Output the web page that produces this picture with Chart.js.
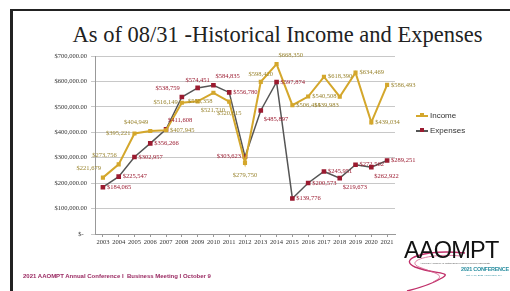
<!DOCTYPE html>
<html>
<head>
<meta charset="utf-8">
<script src="https://cdn.jsdelivr.net/npm/chart.js@4.4.0/dist/chart.umd.min.js"></script>
<style>
  body { margin: 0; width: 510px; height: 291px; background: #fff; position: relative; overflow: hidden; font-family: "Liberation Sans", sans-serif; }
  .frameTop { position: absolute; left: 10px; top: 9px; width: 500px; height: 2px; background: #222; }
  .frameLeft { position: absolute; left: 10px; top: 9px; width: 3px; height: 282px; background: #222; }
  .title { position: absolute; left: 0; width: 555px; top: 22px; text-align: center; font-family: "Liberation Serif", serif; font-size: 22.5px; color: #222; white-space: nowrap; }
  #wrap { position: absolute; left: 30px; top: 48px; width: 425px; height: 202px; }
  .legend { position: absolute; left: 416px; font-size: 8px; color: #333; white-space: nowrap; }
  .legend span.sw { display: inline-block; width: 12px; height: 2px; vertical-align: middle; margin-right: 2px; position: relative; }
  .legend span.sw i { position: absolute; left: 4px; top: -1.5px; width: 4px; height: 4px; }
  .footer { position: absolute; left: 23px; top: 273px; font-size: 6px; font-weight: bold; color: #9a2a62; white-space: nowrap; }
  .logo { position: absolute; left: 404px; top: 238px; font-size: 23.5px; line-height: 24px; color: #111; font-family: "Liberation Sans", sans-serif; letter-spacing: -0.8px; white-space: nowrap; }
  .logoSub { position: absolute; left: 420px; top: 262px; font-size: 2.5px; color: #555; white-space: nowrap; }
  .conf { position: absolute; left: 461px; top: 266px; font-size: 5.5px; font-weight: bold; color: #2a8ea0; white-space: nowrap; letter-spacing: -0.3px; font-family: "Liberation Sans Narrow", "Liberation Sans", sans-serif; }
  .confSub { position: absolute; left: 466px; top: 274px; font-size: 2.5px; color: #2a8ea0; white-space: nowrap; }
</style>
</head>
<body>
<div class="frameTop"></div>
<div class="frameLeft"></div>
<div class="title">As of 08/31 -Historical Income and Expenses</div>
<div id="wrap"><canvas id="myChart"></canvas></div>
<div class="legend" style="top:111px"><span class="sw" style="background:#d4a72c"><i style="background:#d4a72c"></i></span>Income</div>
<div class="legend" style="top:126px"><span class="sw" style="background:#555"><i style="background:#9b1b30"></i></span>Expenses</div>
<svg style="position:absolute;left:395px;top:245px" width="80" height="46">
  <path d="M70 8 C30 4, 2 14, 20 22 C40 30, 60 26, 45 34 C35 40, 20 44, 12 46" fill="none" stroke="#c0306a" stroke-width="1.4"/>
  <path d="M66 11 C34 8, 10 16, 24 22 C42 29, 52 30, 38 37" fill="none" stroke="#d45a8a" stroke-width="0.8"/>
</svg>
<div class="logo">AAOMPT</div>
<div class="logoSub">American Academy of Orthopaedic Manual Physical Therapists</div>
<div class="conf">2021 CONFERENCE</div>
<div class="confSub">Oct. 7-10, 2021 | Cleveland, OH</div>
<div class="footer">2021 AAOMPT Annual Conference I &nbsp;Business Meeting I October 9</div>

<script>
const years = ['2003','2004','2005','2006','2007','2008','2009','2010','2011','2012',
               '2013','2014','2015','2016','2017','2018','2019','2020','2021'];
const income = [221679, 273756, 395221, 404949, 407945, 516149, 521710, 555358, 520615, 279750,
                598420, 668350, 506414, 540508, 618390, 539983, 634469, 439034, 586493];
const expenses = [184065, 225547, 302957, 356266, 411608, 538759, 574451, 584835, 556780, 303623,
                  485897, 597874, 139776, 200573, 245951, 219673, 272562, 262922, 289251];
const yTicks = [0, 100000, 200000, 300000, 400000, 500000, 600000, 700000];

// where each value label sits next to its point
const incomeSpots = ['al','al','l','al','r','l','br','bl','b','b','a','ar','r','r','r','bl','r','r','r'];
const expenseSpots = ['r','r','r','r','ar','al','a','ar','r','l','br','r','r','r','r','br','r','br','r'];

const money = v => '$' + v.toLocaleString('en-US');

const valueLabels = {
  id: 'valueLabels',
  afterDatasetsDraw(chart) {
    const ctx = chart.ctx;
    ctx.save();
    ctx.font = '6.5px "Liberation Serif", serif';
    ctx.textBaseline = 'middle';
    chart.data.datasets.forEach((ds, di) => {
      const spots = di === 0 ? incomeSpots : expenseSpots;
      ctx.fillStyle = di === 0 ? '#9a8530' : '#9b1b30';
      chart.getDatasetMeta(di).data.forEach((pt, i) => {
        const txt = money(ds.data[i]);
        const w = ctx.measureText(txt).width;
        let x = pt.x + 4, y = pt.y;
        const s = spots[i];
        if (s === 'l') { x = pt.x - 4 - w; }
        if (s === 'a') { x = pt.x - w / 2; y = pt.y - 8; }
        if (s === 'b') { x = pt.x - w / 2; y = pt.y + 12; }
        if (s === 'ar') { x = pt.x + 2; y = pt.y - 9; }
        if (s === 'al') { x = pt.x - w - 2; y = pt.y - 9; }
        if (s === 'br') { x = pt.x + 3; y = pt.y + 9; }
        if (s === 'bl') { x = pt.x - w - 1; y = pt.y + 9; }
        ctx.fillText(txt, x, y);
      });
    });
    ctx.restore();
  }
};

const ctx = document.getElementById('myChart').getContext('2d');
new Chart(ctx, {
  type: 'line',
  data: {
    labels: years,
    datasets: [
      {
        label: 'Income',
        data: income,
        borderColor: '#d4a72c',
        backgroundColor: '#d4a72c',
        borderWidth: 2,
        pointStyle: 'rect',
        pointRadius: 1.5,
        tension: 0
      },
      {
        label: 'Expenses',
        data: expenses,
        borderColor: '#555555',
        backgroundColor: '#9b1b30',
        borderWidth: 1.5,
        pointStyle: 'rect',
        pointRadius: 2.2,
        pointBorderColor: '#9b1b30',
        tension: 0
      }
    ]
  },
  options: {
    responsive: true,
    maintainAspectRatio: false,
    animation: false,
    layout: { padding: { top: 8, right: 60, left: 0, bottom: 0 } },
    plugins: { legend: { display: false }, tooltip: { enabled: false } },
    scales: {
      x: {
        offset: true,
        grid: { drawOnChartArea: false, tickLength: 3, color: '#999' },
        border: { color: '#999' },
        ticks: { font: { size: 6.5, family: 'Liberation Serif' }, color: '#333', padding: 1, maxRotation: 0, autoSkip: false },
        afterFit(scale) { scale.height = 16; }
      },
      y: {
        min: 0,
        max: 700000,
        afterBuildTicks(scale) { scale.ticks = yTicks.map(v => ({ value: v })); },
        grid: { color: '#c8c8c8', tickLength: 4 },
        border: { color: '#999' },
        ticks: {
          font: { size: 6.5, family: 'Liberation Serif' },
          color: '#333',
          padding: 4,
          callback: v => v === 0 ? '$-  ' : '$' + v.toLocaleString('en-US', { minimumFractionDigits: 2 })
        },
        afterFit(scale) { scale.width = 65; }
      }
    }
  },
  plugins: [valueLabels]
});
</script>
</body>
</html>
